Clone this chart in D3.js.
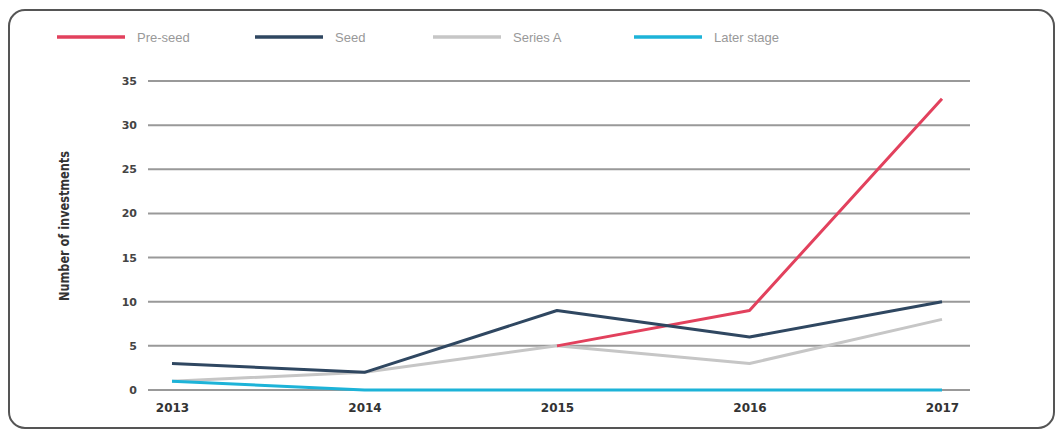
<!DOCTYPE html>
<html>
<head>
<meta charset="utf-8">
<script src="https://cdn.jsdelivr.net/npm/d3@7"></script>
<style>
  body { margin: 0; background: #fff; }
  svg { display: block; font-family: "Liberation Sans", Arial, sans-serif; }
</style>
</head>
<body>
<script>
var years = ["2013", "2014", "2015", "2016", "2017"];
var preSeed = [null, null, 5, 9, 33];
var seed = [3, 2, 9, 6, 10];
var seriesA = [1, 2, 5, 3, 8];
var laterStage = [1, 0, 0, 0, 0];
var yTicks = [0, 5, 10, 15, 20, 25, 30, 35];

var width = 1058,
    height = 434;

var series = [
    {name: "Series A", values: seriesA, color: "#c6c6c6"},
    {name: "Pre-seed", values: preSeed, color: "#e2415d"},
    {name: "Seed", values: seed, color: "#2f4761"},
    {name: "Later stage", values: laterStage, color: "#1db3d8"}
];
var legendOrder = ["Pre-seed", "Seed", "Series A", "Later stage"];
var legendX = [57, 255, 433, 634];

var svg = d3.select("body").append("svg")
    .attr("width", width)
    .attr("height", height);

// rounded frame
svg.append("rect")
    .attr("x", 9).attr("y", 10)
    .attr("width", 1045).attr("height", 418)
    .attr("rx", 16)
    .attr("fill", "none")
    .attr("stroke", "#555")
    .attr("stroke-width", 2);

var xScale = d3.scalePoint().domain(years).range([172, 942]);
var yScale = d3.scaleLinear().domain([0, 35]).range([390, 81]);

// gridlines
svg.append("g")
    .selectAll("line")
    .data(yTicks)
    .enter().append("line")
    .attr("x1", 148).attr("x2", 970)
    .attr("y1", function(d) { return yScale(d); })
    .attr("y2", function(d) { return yScale(d); })
    .attr("stroke", "#999")
    .attr("stroke-width", 2);

// y axis labels
var yAxis = svg.append("g")
    .attr("transform", "translate(137,0)")
    .call(d3.axisLeft(yScale).tickValues(yTicks).tickSize(0).tickPadding(0));
yAxis.select(".domain").remove();
yAxis.selectAll("text")
    .attr("fill", "#444")
    .style("font-family", "'DejaVu Sans', sans-serif")
    .style("font-size", "11px")
    .style("font-weight", "bold");

// x axis labels
var xAxis = svg.append("g")
    .attr("transform", "translate(0,403)")
    .call(d3.axisBottom(xScale).tickSize(0).tickPadding(0));
xAxis.select(".domain").remove();
xAxis.selectAll("text")
    .attr("fill", "#333")
    .style("font-family", "'DejaVu Sans', sans-serif")
    .style("font-size", "12px")
    .style("font-weight", "bold");

// y title
svg.append("text")
    .attr("transform", "translate(69,226) rotate(-90)")
    .attr("text-anchor", "middle")
    .attr("fill", "#333")
    .style("font-family", "'Liberation Sans Narrow', 'DejaVu Sans Condensed', sans-serif")
    .style("font-size", "14px")
    .style("font-weight", "bold")
    .attr("textLength", 150)
    .attr("lengthAdjust", "spacingAndGlyphs")
    .text("Number of investments");

var line = d3.line()
    .defined(function(d) { return d != null; })
    .x(function(d, i) { return xScale(years[i]); })
    .y(function(d) { return yScale(d); });

svg.append("g")
    .selectAll("path")
    .data(series)
    .enter().append("path")
    .attr("d", function(d) { return line(d.values); })
    .attr("fill", "none")
    .attr("stroke", function(d) { return d.color; })
    .attr("stroke-width", 3)
    .attr("stroke-linejoin", "round");

// legend
var legend = svg.append("g")
    .selectAll("g")
    .data(legendOrder)
    .enter().append("g")
    .attr("transform", function(d, i) { return "translate(" + legendX[i] + ",37)"; });

legend.append("line")
    .attr("x1", 0).attr("x2", 68)
    .attr("stroke", function(d) {
        return series.find(function(s) { return s.name == d; }).color;
    })
    .attr("stroke-width", 3.5);

legend.append("text")
    .attr("x", 80)
    .attr("dy", "0.35em")
    .attr("fill", "#999")
    .style("font-size", "13px")
    .text(function(d) { return d; });
</script>
</body>
</html>
